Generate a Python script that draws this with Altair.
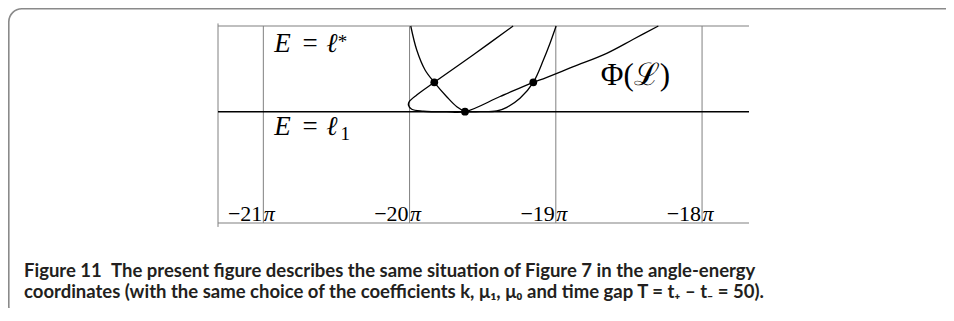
import altair as alt
import pandas as pd

# ---- data (x in units of pi, y: E with l1 = 0 and l* = 1) ----
X_MIN, X_MAX = -21.31, -17.679
Y_MIN, Y_MAX = -1.299, 1.0

tick_vals = [-21, -20, -19, -18]
tick_nums = ["\u221221", "\u221220", "\u221219", "\u221218"]

u_x = [-19.992, -19.951, -19.894, -19.831, -19.746, -19.677, -19.621, -19.518,
       -19.404, -19.335, -19.245, -19.154, -19.085, -19.039, -18.998]
u_y = [1.0, 0.720, 0.487, 0.343, 0.175, 0.058, 0.005, 0.0,
       0.008, 0.051, 0.156, 0.343, 0.603, 0.802, 1.0]

phi_x = [-18.299, -18.470, -18.652, -18.880, -19.108, -19.154, -19.381, -19.621,
         -19.746, -19.906, -19.985, -20.008, -20.002, -19.951, -19.831, -19.566, -19.292]
phi_y = [1.0, 0.845, 0.681, 0.525, 0.370, 0.343, 0.177, 0.0,
         -0.003, 0.005, 0.028, 0.078, 0.117, 0.195, 0.343, 0.662, 1.0]

dot_x = [-19.831, -19.621, -19.154]
dot_y = [0.343, 0.0, 0.343]

caption1 = "Figure 11\u2002The present figure describes the same situation of Figure 7 in the angle-energy"
caption2 = ("coordinates (with the same choice of the coefficients k, \u03bc\u2081, \u03bc\u2080 "
            "and time gap T = t\u208a \u2013 t\u208b = 50).")

# ---- scales ----
xs = alt.Scale(domain=[X_MIN, X_MAX], nice=False, zero=False)
ys = alt.Scale(domain=[Y_MIN, Y_MAX], nice=False, zero=False)
GRAY = "#808080"

def X(f="x"):
    return alt.X(f"{f}:Q", scale=xs, axis=None)

def Y(f="y"):
    return alt.Y(f"{f}:Q", scale=ys, axis=None)

# frame (decoration)
frame = alt.Chart(pd.DataFrame({"a": [0]})).mark_rect(
    fillOpacity=0, stroke="#8a8a8a", strokeWidth=1.6, cornerRadius=13
).encode(x=alt.value(-209.2), x2=alt.value(780), y=alt.value(-17.2), y2=alt.value(293))

# vertical grid lines
grid_df = pd.DataFrame({"x": tick_vals, "y": [Y_MAX] * 4, "y2": [Y_MIN] * 4})
grid = alt.Chart(grid_df).mark_rule(color=GRAY, strokeWidth=1).encode(
    x=X(), y=Y(), y2="y2:Q")

# left border of the plot
left_df = pd.DataFrame({"x": [X_MIN], "y": [1.03], "y2": [-1.345]})
left = alt.Chart(left_df).mark_rule(color=GRAY, strokeWidth=1).encode(
    x=X(), y=Y(), y2="y2:Q")

# horizontal lines top / bottom
hz_df = pd.DataFrame({"y": [Y_MAX, Y_MIN], "x": [X_MIN, X_MIN], "x2": [X_MAX, X_MAX]})
hz = alt.Chart(hz_df).mark_rule(color=GRAY, strokeWidth=1.2).encode(
    x=X(), x2="x2:Q", y=Y())

# E = l1 line
l1_df = pd.DataFrame({"y": [0.0], "x": [X_MIN], "x2": [X_MAX]})
l1 = alt.Chart(l1_df).mark_rule(color="black", strokeWidth=1.6).encode(
    x=X(), x2="x2:Q", y=Y())

# curves
u_df = pd.DataFrame({"x": u_x, "y": u_y, "i": range(len(u_x))})
u_line = alt.Chart(u_df).mark_line(color="black", strokeWidth=1.3,
                                   interpolate="catmull-rom").encode(
    x=X(), y=Y(), order="i:Q")

phi_df = pd.DataFrame({"x": phi_x, "y": phi_y, "i": range(len(phi_x))})
phi_line = alt.Chart(phi_df).mark_line(color="black", strokeWidth=1.3,
                                       interpolate="catmull-rom").encode(
    x=X(), y=Y(), order="i:Q")

dots = alt.Chart(pd.DataFrame({"x": dot_x, "y": dot_y})).mark_circle(
    color="black", opacity=1, size=60).encode(x=X(), y=Y())

# tick labels inside the plot
SERIF = "Liberation Serif"
tk_df = pd.DataFrame({"x": tick_vals, "t": tick_nums, "y": [-1.272] * 4})
tk_num = alt.Chart(tk_df).mark_text(font=SERIF, fontSize=22, align="right",
                                    baseline="alphabetic", dx=-1, color="black").encode(
    x=X(), y=Y(), text="t:N")
tk_pi = alt.Chart(tk_df).mark_text(font=SERIF, fontSize=22, fontStyle="italic",
                                   align="left", baseline="alphabetic", dx=0.5,
                                   color="black").encode(
    x=X(), y=Y(), text=alt.value("\u03c0"))

# math labels (glyph by glyph)
it_df = pd.DataFrame({
    "x": [-20.869, -20.532, -20.869, -20.532],
    "y": [0.697, 0.697, -0.272, -0.272],
    "t": ["E", "\u2113", "E", "\u2113"],
})
it_txt = alt.Chart(it_df).mark_text(font=SERIF, fontSize=27, fontStyle="italic",
                                    align="center", baseline="alphabetic",
                                    color="black").encode(x=X(), y=Y(), text="t:N")
eq_df = pd.DataFrame({"x": [-20.681, -20.681], "y": [0.697, -0.272], "t": ["=", "="]})
eq_txt = alt.Chart(eq_df).mark_text(font=SERIF, fontSize=27, align="center",
                                    baseline="alphabetic", color="black").encode(
    x=X(), y=Y(), text="t:N")
sup_df = pd.DataFrame({"x": [-20.458, -20.44], "y": [0.74, -0.33], "t": ["*", "1"]})
sup_txt = alt.Chart(sup_df).mark_text(font=SERIF, fontSize=19, align="center",
                                      baseline="alphabetic", color="black").encode(
    x=X(), y=Y(), text="t:N")
phi_lbl = alt.Chart(pd.DataFrame({"x": [-18.455], "y": [0.312], "t": ["\u03a6(\u2112)"]})).mark_text(
    font=SERIF, fontSize=31, align="center", baseline="alphabetic", color="black").encode(
    x=X(), y=Y(), text="t:N")

# caption
CAP_FONT = "Lato"
cap1 = alt.Chart(pd.DataFrame({"a": [0]})).mark_text(
    font=CAP_FONT, fontWeight="bold", fontSize=18.5, align="left", baseline="alphabetic",
    color="#231f20").encode(x=alt.value(-194), y=alt.value(250.7), text=alt.value(caption1))
cap2 = alt.Chart(pd.DataFrame({"a": [0]})).mark_text(
    font=CAP_FONT, fontWeight="bold", fontSize=18.5, align="left", baseline="alphabetic",
    color="#231f20").encode(x=alt.value(-194), y=alt.value(272), text=alt.value(caption2))

chart = alt.layer(
    frame, grid, left, hz, l1, u_line, phi_line, dots,
    tk_num, tk_pi, it_txt, eq_txt, sup_txt, phi_lbl, cap1, cap2
).properties(
    width=531, height=197,
    padding={"left": 210, "top": 18, "right": 197, "bottom": 85},
    autosize="none",
).configure_view(stroke=None)

chart.save("out.html", embed_options={"renderer": "svg", "actions": False})
